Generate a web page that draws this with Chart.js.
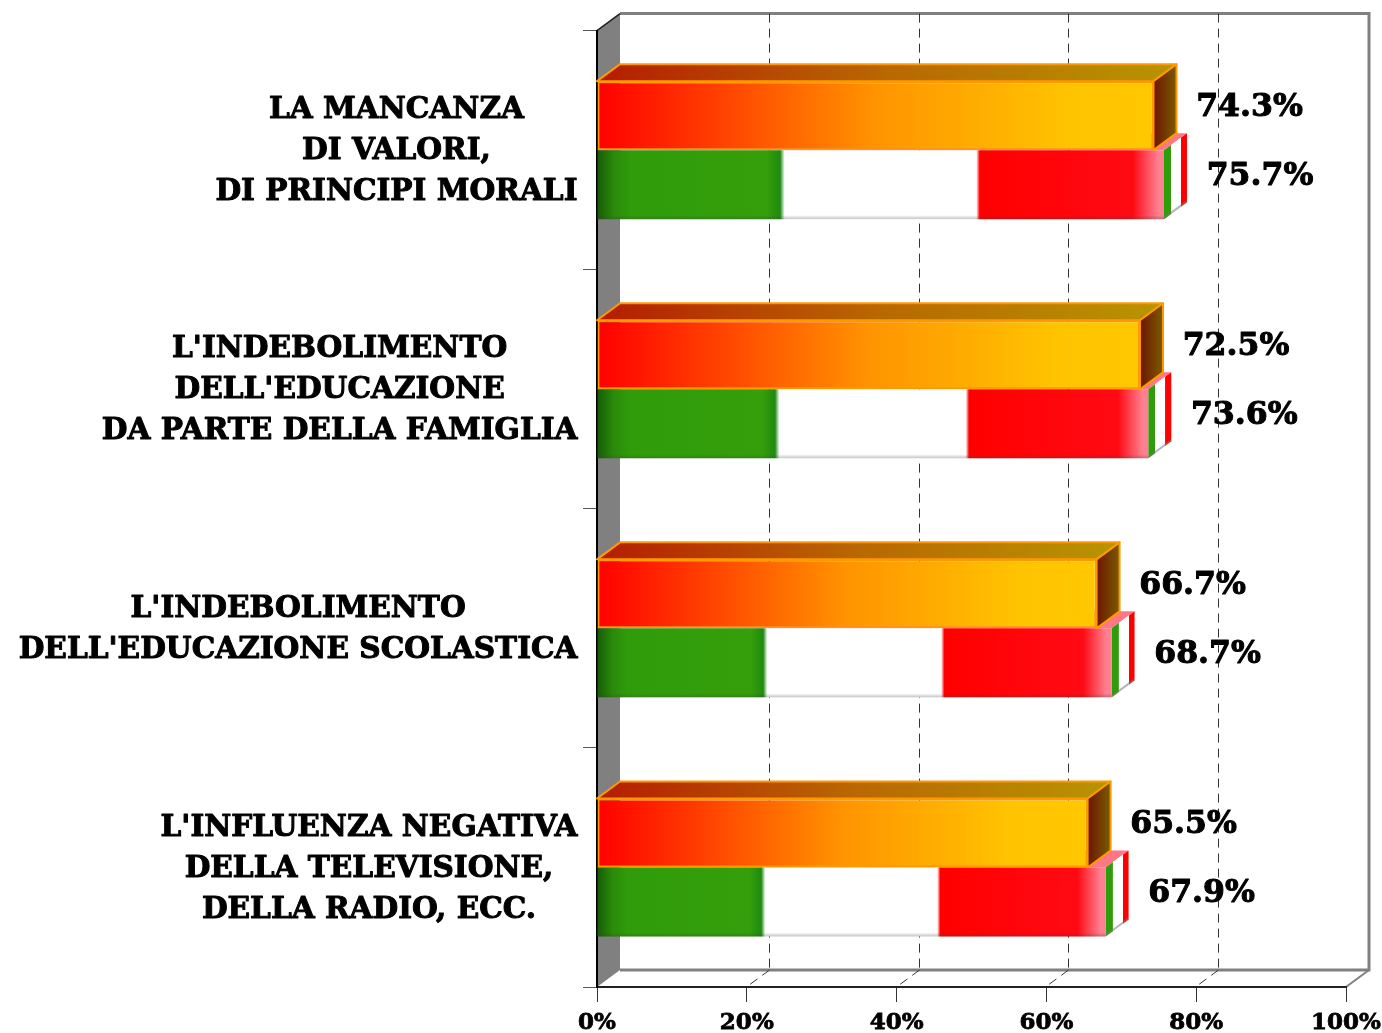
<!DOCTYPE html>
<html><head><meta charset="utf-8">
<style>html,body{margin:0;padding:0;background:#fff}canvas{display:block}</style>
<script src="https://cdn.jsdelivr.net/npm/chart.js@4"></script></head>
<body><canvas id="c" width="1382" height="1033"></canvas>
<script>
const categories = [
  ["LA MANCANZA","DI VALORI,","DI PRINCIPI MORALI"],
  ["L'INDEBOLIMENTO","DELL'EDUCAZIONE","DA PARTE DELLA FAMIGLIA"],
  ["L'INDEBOLIMENTO","DELL'EDUCAZIONE SCOLASTICA"],
  ["L'INFLUENZA NEGATIVA","DELLA TELEVISIONE,","DELLA RADIO, ECC."]
];
const seriesEurope = [74.3, 72.5, 66.7, 65.5];
const seriesItaly = [75.7, 73.6, 68.7, 67.9];
const axisMax = 100;
const axisStep = 20;

const DX = 23, DY = -17;
const FONT = '"DejaVu Serif"';

function hGrad(ctx, x0, x1, stops){
  if(!Number.isFinite(x0)||!Number.isFinite(x1)) return stops[0][1];
  const g = ctx.createLinearGradient(x0,0,x1,0);
  stops.forEach(s=>g.addColorStop(s[0],s[1]));
  return g;
}
const orangeStops = [[0,'#ff0000'],[0.5,'#ff9400'],[0.85,'#ffc400'],[1,'#ffc800']];
const orangeTop = [[0,'#b51c00'],[0.5,'#b86800'],[1,'#b89400']];
const orangeSide = [[0,'#6e1500'],[1,'#7a5c00']];
const italyStops = [[0,'#175a08'],[0.03,'#2a8a0a'],[0.06,'#309c0a'],[0.3,'#359e0a'],[0.323,'#1f8a10'],[0.331,'#ffffff'],[0.669,'#ffffff'],[0.675,'#ff0000'],[0.945,'#ff0a14'],[0.99,'#ff8090'],[1,'#ff8090']];

function poly(ctx, pts, fill, stroke, lw){
  ctx.beginPath();
  pts.forEach((p,i)=>i?ctx.lineTo(p[0],p[1]):ctx.moveTo(p[0],p[1]));
  ctx.closePath();
  if(fill){ctx.fillStyle=fill;ctx.fill();}
  if(stroke){ctx.strokeStyle=stroke;ctx.lineWidth=lw||2;ctx.lineJoin='round';ctx.stroke();}
}
function boldText(ctx,t,x,y,w){
  ctx.lineWidth=w;ctx.strokeStyle='#000';ctx.lineJoin='round';
  ctx.strokeText(t,x,y);ctx.fillText(t,x,y);
}

const box3d = {
  id:'box3d',
  beforeDraw(chart){
    const {ctx, chartArea:a, scales:{x}} = chart;
    ctx.save();
    // left wall
    poly(ctx,[[a.left,a.top],[a.left+DX,a.top+DY],[a.left+DX,a.bottom+DY],[a.left,a.bottom]],'#808080');
    // back-wall frame
    ctx.strokeStyle='#808080';ctx.lineWidth=3;
    ctx.beginPath();
    ctx.moveTo(a.left+DX,a.top+DY);ctx.lineTo(a.right+DX,a.top+DY);ctx.lineTo(a.right+DX,a.bottom+DY);ctx.lineTo(a.left+DX,a.bottom+DY);
    ctx.stroke();
    ctx.lineWidth=2;
    ctx.beginPath();ctx.moveTo(a.right+DX,a.bottom+DY);ctx.lineTo(a.right,a.bottom);ctx.stroke();
    ctx.strokeStyle='#222';ctx.lineWidth=1.5;
    ctx.beginPath();ctx.moveTo(a.left,a.top);ctx.lineTo(a.left+DX,a.top+DY);ctx.stroke();
    // dashed gridlines: back wall and floor
    ctx.strokeStyle='#333';ctx.lineWidth=1;ctx.setLineDash([9,6]);
    x.ticks.forEach(t=>{
      if(t.value===0||t.value===axisMax) return;
      const px=Math.round(x.getPixelForValue(t.value))-0.5;
      ctx.beginPath();ctx.moveTo(px+DX,a.top+DY);ctx.lineTo(px+DX,a.bottom+DY);ctx.stroke();
      ctx.beginPath();ctx.moveTo(px+DX,a.bottom+DY);ctx.lineTo(px,a.bottom);ctx.stroke();
    });
    ctx.restore();
  },
  beforeDatasetDraw(chart,args){
    const {ctx, scales:{x}} = chart;
    const x0 = x.getPixelForValue(0);
    ctx.save();
    args.meta.data.forEach(bar=>{
      const {x:xe, y, height:h} = bar.getProps(['x','y','height'],true);
      const t=y-h/2, b=y+h/2;
      if(args.index===0){
        poly(ctx,[[x0,t],[x0+DX,t+DY],[xe+DX,t+DY],[xe,t]],hGrad(ctx,x0,xe+DX,orangeTop),'#ff9900',2);
        poly(ctx,[[xe,t],[xe+DX,t+DY],[xe+DX,b+DY],[xe,b]],hGrad(ctx,xe,xe+DX,orangeSide),'#ff9900',2);
      }else{
        poly(ctx,[[x0,t],[x0+DX,t+DY],[xe+DX,t+DY],[xe,t]],'#ff7684');
        const side=hGrad(ctx,xe,xe+DX,[[0,'#2f9c0a'],[0.3,'#2f9c0a'],[0.31,'#ffffff'],[0.74,'#ffffff'],[0.75,'#ff0000'],[1,'#ff0000']]);
        poly(ctx,[[xe,t],[xe+DX,t+DY],[xe+DX,b+DY],[xe,b]],side);
        // soft shadow along the lower edge of the flag side
        ctx.strokeStyle='rgba(120,120,120,0.55)';ctx.lineWidth=2;
        ctx.beginPath();ctx.moveTo(xe,b-1);ctx.lineTo(xe+DX,b+DY-1);ctx.stroke();
      }
    });
    ctx.restore();
  },
  afterDatasetDraw(chart,args){
    if(args.index!==1) return;
    const {ctx, scales:{x}} = chart;
    const x0=x.getPixelForValue(0);
    ctx.save();
    args.meta.data.forEach(bar=>{
      const {x:xe,y,height:h}=bar.getProps(['x','y','height'],true);
      const b=y+h/2;
      const g=ctx.createLinearGradient(0,b-4,0,b);
      g.addColorStop(0,'rgba(60,60,60,0)');g.addColorStop(1,'rgba(60,60,60,0.3)');
      ctx.fillStyle=g;ctx.fillRect(x0,b-4,xe-x0,4);
    });
    ctx.restore();
  },
  afterDraw(chart){
    const {ctx, scales:{y}} = chart;
    const rightEdge=577.5, lineH=41;
    ctx.save();
    ctx.fillStyle='#000';ctx.textBaseline='middle';
    // category labels: block right-aligned, lines centred within it
    ctx.font='bold 29.6px '+FONT;ctx.textAlign='center';
    categories.forEach((lines,i)=>{
      const w=Math.max(...lines.map(l=>ctx.measureText(l).width));
      const cx=rightEdge-w/2, cy=y.getPixelForValue(i);
      lines.forEach((l,k)=>boldText(ctx,l,cx,cy+1.5+(k-(lines.length-1)/2)*lineH,1));
    });
    // value labels
    ctx.font='bold 31.5px '+FONT;ctx.textAlign='center';
    chart.data.datasets.forEach((ds,di)=>{
      chart.getDatasetMeta(di).data.forEach((bar,i)=>{
        boldText(ctx,ds.data[i].toFixed(1)+'%',bar.x+96,bar.y-8,1);
      });
    });
    ctx.restore();
  }
};

new Chart(document.getElementById('c').getContext('2d'),{
  type:'bar',
  plugins:[box3d],
  data:{
    labels:categories,
    datasets:[
      {data:seriesEurope,borderColor:'#ff9900',borderWidth:2,borderSkipped:false,
       backgroundColor:c=>c.type!=='data'||!c.chart.scales.x?'#ff9900':hGrad(c.chart.ctx,c.chart.scales.x.getPixelForValue(0),c.chart.scales.x.getPixelForValue(seriesEurope[c.dataIndex]),orangeStops)},
      {data:seriesItaly,borderWidth:0,
       backgroundColor:c=>c.type!=='data'||!c.chart.scales.x?'#ff0000':hGrad(c.chart.ctx,c.chart.scales.x.getPixelForValue(0),c.chart.scales.x.getPixelForValue(seriesItaly[c.dataIndex]),italyStops)}
    ]
  },
  options:{
    indexAxis:'y',responsive:false,animation:false,
    datasets:{bar:{categoryPercentage:0.577,barPercentage:1}},
    layout:{padding:{top:30.6,right:36,left:0,bottom:0}},
    plugins:{legend:{display:false},title:{display:false},tooltip:{enabled:false}},
    scales:{
      x:{min:0,max:axisMax,
        afterFit(s){s.height=46;s.paddingLeft=0;s.paddingRight=0;},
        grid:{drawOnChartArea:false,drawTicks:true,tickLength:15,color:'#333',lineWidth:1},
        border:{color:'#222',width:2},
        ticks:{stepSize:axisStep,color:'#000',padding:7,maxRotation:0,textStrokeColor:'#000',textStrokeWidth:0.8,font:{family:FONT,weight:'bold',size:23},callback:v=>v+'%'}},
      y:{
        afterFit(s){s.width=597;s.paddingTop=0;s.paddingBottom=0;},
        grid:{drawOnChartArea:false,drawTicks:true,tickLength:14,color:'#555',lineWidth:1},
        border:{color:'#000',width:2},
        ticks:{display:false}}
    }
  }
});
</script></body></html>
